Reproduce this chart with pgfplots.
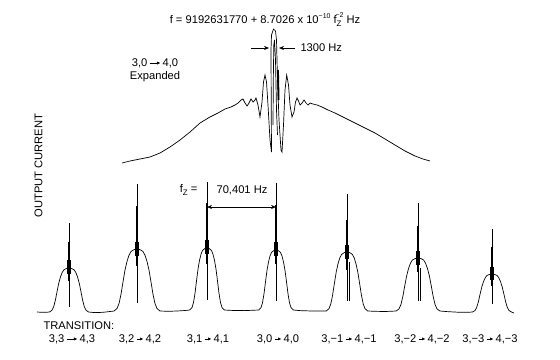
\documentclass[border=0pt]{standalone}
\usepackage{pgfplots}
\pgfplotsset{compat=1.18}
\usepackage{fontspec}
\setmainfont{Liberation Sans}
\usetikzlibrary{arrows.meta}
\newcommand{\arr}[1]{\tikz[baseline=-0.55ex]\draw[line width=0.6pt,-{Latex[length=3.5pt,width=3.2pt]}](0,0)--(#1,0);}
\begin{document}
\begin{tikzpicture}[font=\fontsize{11.2}{13}\selectfont]
\begin{axis}[
  scale only axis, width=560bp, height=359bp,
  xmin=0, xmax=560, ymin=0, ymax=359, y dir=reverse,
  hide axis, clip=false, unbounded coords=jump,
]
\path (rel axis cs:0,0) rectangle (rel axis cs:1,1);

% expanded central transition
\addplot[black, line width=0.7pt] coordinates {
(122,163) (130,161) (140,159) (150,157) (160,153) (170,147) (180,140) (190,132)
(200,123) (210,117) (218,113) (225,109) (231,107) (235,105) (238,103) (241,100)
(243,99) (245,103) (247,106) (249,103) (251,99) (253,102) (255,100) (256,98)
(258,105) (260,117) (262,102) (263.5,82) (265,75) (266.5,82) (268,105) (270,140)
(271.5,152) (271.2,100) (271,50) (271.5,35) (273.5,29) (275.5,31) (276.5,40)
(277.5,80) (279,120) (281,150) (282,152) (283.5,125) (285,90) (286.7,75)
(288.5,85) (290,105) (292,117) (294,112) (295.5,102) (297,98) (298.5,101)
(300,105) (302,103) (304,100) (306,103) (308,105) (310,103) (313,104) (317,105)
(322,107) (328,110) (335,113) (345,118) (355,123) (365,128) (375,133) (385,139)
(395,145) (405,151) (415,156) (423,159) (430,161)};
\addplot[black, line width=0.7pt] coordinates {
(273,125) (273.3,80) (273.8,45) (274.5,40) (275.5,60) (276.5,110) (277.5,135)};
\addplot[black, line width=1.8pt] coordinates {(278,70) (278.6,100)};

% full Zeeman spectrum
\addplot[black, line width=0.7pt] coordinates {
(37,312)(42,312.3)(47,312.2)
(49.5,312)(52,310.2)(53.7,306.7)(55.4,300.1)(57.1,291.3)(58.8,283.0)(60.5,276.8)(62.2,272.4)(63.9,269.8)(66.5,268.4)(69,268)(71.5,268.4)(74.1,269.8)(75.8,272.4)(77.5,276.8)(79.2,283.0)(80.9,291.3)(82.6,300.1)(84.3,306.7)(86,310.2)(88.5,312)
(95,312.6)(103,312.3)(110,311.5)
(114,311)(117,308.5)(119,303.6)(121,294.3)(123,281.9)(125,270.1)(127,261.4)(129,255.2)(131,251.5)(134,249.6)(137,249)(140,249.6)(143,251.5)(145,255.2)(147,261.4)(149,270.1)(151,281.9)(153,294.3)(155,303.6)(157,308.5)(160,311)
(168,311.3)(177,311)(185,310.5)
(189.75,310)(192,307.5)(193.5,302.6)(195,293.3)(196.5,280.9)(198,269.1)(199.5,260.4)(201,254.2)(202.5,250.5)(204.75,248.6)(207,248)(209.25,248.6)(211.5,250.5)(213,254.2)(214.5,260.4)(216,269.1)(217.5,280.9)(219,293.3)(220.5,302.6)(222,307.5)(224.25,310)
(232,310.4)(245,310.6)(254,310.2)
(258.75,310)(261,307.6)(262.5,302.8)(264,293.8)(265.5,281.8)(267,270.4)(268.5,262)(270,256)(271.5,252.4)(273.75,250.6)(276,250)(278.25,250.6)(280.5,252.4)(282,256)(283.5,262)(285,270.4)(286.5,281.8)(288,293.8)(289.5,302.8)(291,307.6)(293.25,310)
(300,310.6)(312,311)(322,311)
(326.3,311)(329,308.6)(330.8,303.9)(332.6,295.1)(334.4,283.3)(336.2,272.1)(338,263.8)(339.8,257.9)(341.6,254.4)(344.3,252.6)(347,252)(349.7,252.6)(352.4,254.4)(354.2,257.9)(356,263.8)(357.8,272.1)(359.6,283.3)(361.4,295.1)(363.2,303.9)(365,308.6)(367.7,311)
(375,311.3)(385,311.5)(392,311.2)
(396.2,311)(399,308.9)(400.9,304.6)(402.8,296.7)(404.7,286.1)(406.6,276.0)(408.5,268.6)(410.4,263.3)(412.3,260.1)(415.2,258.5)(418,258)(420.9,258.5)(423.7,260.1)(425.6,263.3)(427.5,268.6)(429.4,276.0)(431.3,286.1)(433.2,296.7)(435.1,304.6)(437,308.9)(439.9,311)
(447,311.6)(458,312.2)(468,312.3)
(472.5,312)(475,310.5)(476.7,307.4)(478.4,301.7)(480.1,294.1)(481.8,286.9)(483.5,281.6)(485.2,277.8)(486.9,275.5)(489.5,274.4)(492,274)(494.5,274.4)(497.1,275.5)(498.8,277.8)(500.5,281.6)(502.2,286.9)(503.9,294.1)(505.6,301.7)(507.3,307.4)(509,310.5)(511.5,312)(514,313)};

% Ramsey fringes (compressed) on each pedestal
\addplot[black, line width=0.8pt] coordinates {
(69,223)(69,307)(69,nan)(137,184)(137,303)(137,nan)(207,182)(207,300)(207,nan)
(276,183)(276,301)(276,nan)(347,194)(347,301)(347,nan)(418,203)(418,301)(418,nan)
(492,229)(492,304)};
\addplot[black, line width=2.8pt] coordinates {
(69,242)(69,281)(69,nan)(137,206)(137,266)(137,nan)(207,203)(207,264)(207,nan)
(276,205)(276,264)(276,nan)(347,220)(347,270)(347,nan)(418,226)(418,272)(418,nan)
(492,247)(492,286)};
\addplot[black, line width=4.5pt] coordinates {
(69,260)(69,274)(69,nan)(137,242)(137,256)(137,nan)(207,240)(207,254)(207,nan)
(276,242)(276,256)(276,nan)(347,245)(347,259)(347,nan)(418,251)(418,265)(418,nan)
(492,267)(492,280)};
\addplot[black, line width=0.6pt] coordinates {
(349,262)(349,301)(349,nan)(420,268)(420,301)};

% annotations
\node at (axis cs:265,20) {f = 9192631770 + 8.7026 x 10\raisebox{5pt}{\scriptsize −10} f\raisebox{-3.5pt}{\footnotesize Z}\kern-6pt\raisebox{5.5pt}{\scriptsize −2}\kern3pt Hz};
\draw[line width=0.6pt,-{Stealth[length=5pt,width=4pt]}] (axis cs:251,48) -- (axis cs:269,48);
\draw[line width=0.6pt,-{Stealth[length=5pt,width=4pt]}] (axis cs:295,48) -- (axis cs:279,48);
\node[anchor=west] at (axis cs:297,48) {1300 Hz};
\node[align=center, inner sep=0pt] at (axis cs:155,70) {3,0\,\arr{11pt}\,4,0\\Expanded};
\node[rotate=90] at (axis cs:38.5,165.5) {OUTPUT CURRENT};
\node[anchor=east] at (axis cs:201,190) {f\raisebox{-3pt}{\footnotesize Z} =};
\node at (axis cs:242,190) {70,401 Hz};
\draw[line width=0.6pt,{Stealth[length=5pt,width=4pt]}-{Stealth[length=5pt,width=4pt]}] (axis cs:207,207) -- (axis cs:276,207);
\node[anchor=west] at (axis cs:40,326) {TRANSITION:};
\node at (axis cs:72,339) {3,3\,\arr{11pt}\,4,3};
\node at (axis cs:140,339) {3,2\,\arr{7pt}\,4,2};
\node at (axis cs:208,339) {3,1\,\arr{7pt}\,4,1};
\node at (axis cs:278,339) {3,0\,\arr{7pt}\,4,0};
\node at (axis cs:349,339) {3,−1\,\arr{7pt}\,4,−1};
\node at (axis cs:422,339) {3,−2\,\arr{7pt}\,4,−2};
\node at (axis cs:490,339) {3,−3\,\arr{7pt}\,4,−3};
\end{axis}
\end{tikzpicture}
\end{document}
